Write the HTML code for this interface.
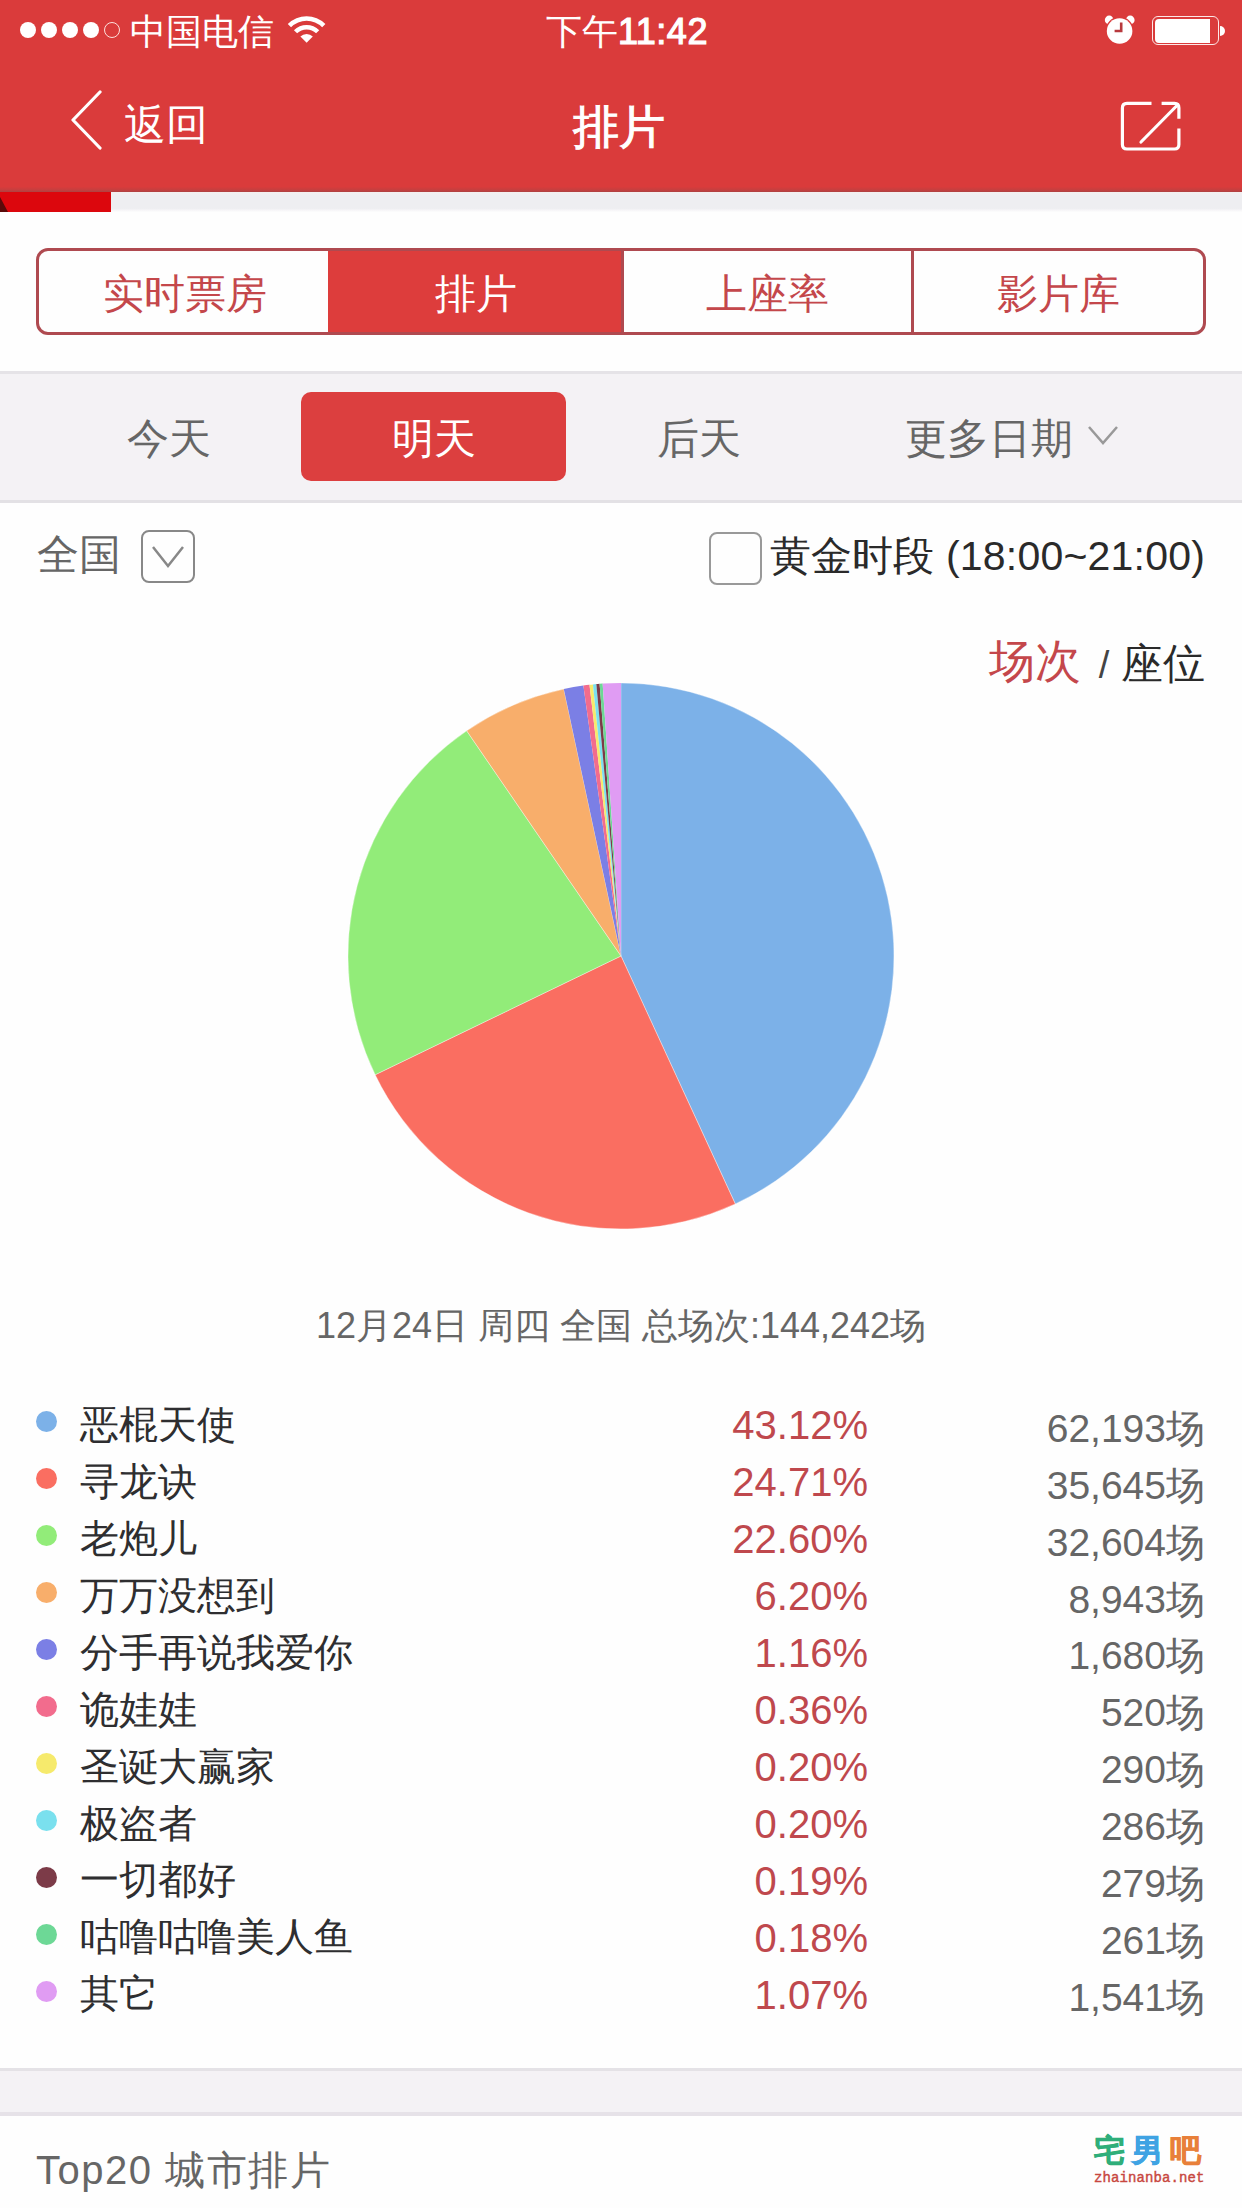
<!DOCTYPE html>
<html><head><meta charset="utf-8">
<style>
*{margin:0;padding:0;box-sizing:border-box}
html,body{width:1242px;height:2208px;overflow:hidden;background:#fefefe;font-family:"Liberation Sans",sans-serif}
.a{position:absolute;white-space:nowrap}
#hdr{position:absolute;left:0;top:0;width:1242px;height:192px;background:#da3b3b}
#prog{position:absolute;left:0;top:192px;width:1242px;height:20px;background:linear-gradient(#f3efef,#eeeef1 20%,#eeeef1 82%,#f7f6f8 92%,#fdfdfd)}
#prog .r{position:absolute;left:0;top:0;width:111px;height:20px;background:#dc070d}
.w{color:#fff}
#seg{position:absolute;left:36px;top:248px;width:1170px;height:87px;border:3px solid #af4a50;border-radius:12px;overflow:hidden}
.sg{position:absolute;top:0;height:81px;line-height:81px;text-align:center;font-size:41px;color:#c4474b;padding-top:3px}
#dates{position:absolute;left:0;top:371px;width:1242px;height:132px;background:#f4f2f5;border-top:3px solid #e5e3e7;border-bottom:3px solid #e3e1e5}
.dt{font-size:42px;color:#666}
.legend .row{position:absolute;left:0;width:1242px;height:57px}
.dot{position:absolute;left:36px;width:21px;height:21px;border-radius:50%}
.nm{position:absolute;left:80px;font-size:39px;color:#2e2e30}
.pc{position:absolute;right:374px;font-size:40px;color:#bf484d}
.ct{position:absolute;right:37px;font-size:39px;color:#666}
</style></head>
<body>
<div id="hdr"></div>
<!-- status bar -->
<div class="a" style="left:19.7px;top:21.9px;width:16.2px;height:16.2px;border-radius:50%;background:#fff"></div>
<div class="a" style="left:40.8px;top:21.9px;width:16.2px;height:16.2px;border-radius:50%;background:#fff"></div>
<div class="a" style="left:61.8px;top:21.9px;width:16.2px;height:16.2px;border-radius:50%;background:#fff"></div>
<div class="a" style="left:82.9px;top:21.9px;width:16.2px;height:16.2px;border-radius:50%;background:#fff"></div>
<div class="a" style="left:103.9px;top:21.9px;width:16.2px;height:16.2px;border-radius:50%;border:1.3px solid #fde0dc"></div>
<div class="a w" style="left:130px;top:10px;font-size:36px;line-height:44px">中国电信</div>
<svg class="a" style="left:280px;top:10px" width="55" height="40" viewBox="0 0 55 40">
<path d="M7.79 13.99A26.6 26.6 0 0 1 45.41 13.99L42.16 17.24A22.0 22.0 0 0 0 11.04 17.24Z" fill="#fff"/>
<path d="M13.94 20.14A17.9 17.9 0 0 1 39.26 20.14L36.08 23.32A13.4 13.4 0 0 0 17.12 23.32Z" fill="#fff"/>
<path d="M26.6 32.8L20.38 26.58A8.8 8.8 0 0 1 32.82 26.58Z" fill="#fff"/>
</svg>
<div class="a w" style="left:546px;top:10px;font-size:36px;line-height:44px">下午<span style="-webkit-text-stroke:1.2px #fff;letter-spacing:0.5px">11:42</span></div>
<!-- alarm -->
<svg class="a" style="left:1100px;top:10px" width="40" height="40" viewBox="0 0 40 40">
<circle cx="9.2" cy="10" r="4.4" fill="#fff"/>
<circle cx="30.2" cy="10" r="4.4" fill="#fff"/>
<circle cx="19.6" cy="21" r="14.2" fill="#da3b3b"/>
<circle cx="19.6" cy="21" r="12.8" fill="#fff"/>
<path d="M21.2 12.5 V21 H14.6" stroke="#b8393d" stroke-width="2.6" fill="none"/>
</svg>
<div class="a" style="left:1152px;top:16px;width:67px;height:29px;border:1.6px solid #fde8e8;border-radius:6px"></div>
<div class="a" style="left:1154.5px;top:18.5px;width:55px;height:24px;background:#fff;border-radius:4px 0 0 4px"></div>
<div class="a" style="left:1220px;top:26px;width:5px;height:10px;background:#fff;border-radius:0 5px 5px 0"></div>
<!-- nav -->
<svg class="a" style="left:68px;top:90px" width="36" height="62" viewBox="0 0 36 62">
<path d="M32 2 L5 30 L32 58" stroke="#fff" stroke-width="3.2" fill="none" stroke-linecap="round" stroke-linejoin="round"/>
</svg>
<div class="a w" style="left:124px;top:99px;font-size:42px;line-height:52px">返回</div>
<div class="a w" style="left:573px;top:99px;font-size:46px;line-height:56px;-webkit-text-stroke:1.1px #fff">排片</div>
<svg class="a" style="left:1100px;top:85px" width="100" height="80" viewBox="0 0 100 80">
<path d="M51.5 18.4 H27 Q22.4 18.4 22.4 23 V59.5 Q22.4 64 27 64 H74.5 Q78.9 64 78.9 59.5 V43.5" stroke="#fff" stroke-width="3.2" fill="none"/>
<path d="M61.6 18.4 H74.5 Q78.9 18.4 78.9 23 V33.8" stroke="#fff" stroke-width="3.2" fill="none"/>
<path d="M41 57 L76 21.5" stroke="#fff" stroke-width="3.2" fill="none" stroke-linecap="round"/>
</svg>
<div class="a" style="left:0;top:187px;width:1242px;height:5px;background:linear-gradient(#d83b3b,#c53f3f 60%,#ad4141)"></div>
<div id="prog"><div class="r"></div><svg class="a" style="left:0;top:0" width="10" height="20"><path d="M0 5 L8 20 H0Z" fill="#5a0a0a"/></svg></div>

<!-- segmented -->
<div id="seg">
<div class="sg" style="left:0;width:292px">实时票房</div>
<div class="sg" style="left:289px;width:295px;background:#dd3d3c;color:#fff">排片</div>
<div class="sg" style="left:582px;width:3px;background:#af4a50"></div>
<div class="sg" style="left:585px;width:287px">上座率</div>
<div class="sg" style="left:872px;width:3px;background:#af4a50"></div>
<div class="sg" style="left:875px;width:289px">影片库</div>
</div>

<!-- dates -->
<div id="dates"></div>
<div class="a dt" style="left:127px;top:411px">今天</div>
<div class="a" style="left:301px;top:392px;width:265px;height:89px;background:#dc3f3f;border-radius:10px"></div>
<div class="a dt" style="left:392px;top:411px;color:#fff">明天</div>
<div class="a dt" style="left:657px;top:411px">后天</div>
<div class="a dt" style="left:905px;top:411px">更多日期</div>
<svg class="a" style="left:1087px;top:424px" width="32" height="24" viewBox="0 0 32 24"><path d="M2 3 L16 19 L30 3" stroke="#999" stroke-width="2.5" fill="none"/></svg>

<!-- filters -->
<div class="a" style="left:37px;top:527px;font-size:42px;color:#666">全国</div>
<div class="a" style="left:141px;top:530px;width:54px;height:53px;border:2.5px solid #888;border-radius:8px"></div>
<svg class="a" style="left:141px;top:530px" width="54" height="53" viewBox="0 0 54 53"><path d="M12 17 L27 36 L42 17" stroke="#888" stroke-width="2.5" fill="none"/></svg>
<div class="a" style="left:709px;top:532px;width:53px;height:53px;border:2.5px solid #999;border-radius:8px"></div>
<div class="a" style="right:37px;top:529px;font-size:41px;color:#2a2a2a;letter-spacing:0.2px">黄金时段 (18:00~21:00)</div>
<div class="a" style="left:989px;top:631px;font-size:46px;color:#c4474b">场次</div>
<div class="a" style="right:37px;top:636px;font-size:42px;color:#2a2a2a"><span style="font-size:38px;color:#444">/</span> 座位</div>

<!-- pie -->
<svg class="a" style="left:0;top:0" width="1242" height="1300" viewBox="0 0 1242 1300">
<path d="M621 956L621.00 683.00A273 273 0 0 1 735.30 1203.92Z" fill="#7cb1e8" stroke="#fff" stroke-opacity="0.45" stroke-width="0.8"/>
<path d="M621 956L735.30 1203.92A273 273 0 0 1 375.19 1074.76Z" fill="#fa6e61" stroke="#fff" stroke-opacity="0.45" stroke-width="0.8"/>
<path d="M621 956L375.19 1074.76A273 273 0 0 1 466.69 730.80Z" fill="#92ec79" stroke="#fff" stroke-opacity="0.45" stroke-width="0.8"/>
<path d="M621 956L466.69 730.80A273 273 0 0 1 563.79 689.06Z" fill="#f8ae6b" stroke="#fff" stroke-opacity="0.45" stroke-width="0.8"/>
<path d="M621 956L563.79 689.06A273 273 0 0 1 583.38 685.60Z" fill="#7b7fe5"/>
<path d="M621 956L583.38 685.60A273 273 0 0 1 589.51 684.82Z" fill="#f26c8d"/>
<path d="M621 956L589.51 684.82A273 273 0 0 1 592.92 684.45Z" fill="#f6ea6c"/>
<path d="M621 956L592.92 684.45A273 273 0 0 1 596.33 684.12Z" fill="#7ae0ee"/>
<path d="M621 956L596.33 684.12A273 273 0 0 1 599.58 683.84Z" fill="#7c3b48"/>
<path d="M621 956L599.58 683.84A273 273 0 0 1 602.66 683.62Z" fill="#6dd896"/>
<path d="M621 956L602.66 683.62A273 273 0 0 1 621.00 683.00Z" fill="#e09cf3"/>
</svg>

<div class="a" style="left:0;width:1242px;text-align:center;top:1302px;font-size:36px;color:#666">12月24日 周四 全国 总场次:144,242场</div>

<!-- LEGEND -->
<div class="dot a" style="top:1411.2px;background:#7cb1e8"></div>
<div class="nm a" style="top:1398.0px">恶棍天使</div>
<div class="pc a" style="top:1403.2px">43.12%</div>
<div class="ct a" style="top:1401.7px">62,193场</div>
<div class="dot a" style="top:1468.1px;background:#fa6e61"></div>
<div class="nm a" style="top:1454.9px">寻龙诀</div>
<div class="pc a" style="top:1460.1px">24.71%</div>
<div class="ct a" style="top:1458.6px">35,645场</div>
<div class="dot a" style="top:1525.1px;background:#92ec79"></div>
<div class="nm a" style="top:1511.9px">老炮儿</div>
<div class="pc a" style="top:1517.1px">22.60%</div>
<div class="ct a" style="top:1515.6px">32,604场</div>
<div class="dot a" style="top:1582.0px;background:#f8ae6b"></div>
<div class="nm a" style="top:1568.8px">万万没想到</div>
<div class="pc a" style="top:1574.0px">6.20%</div>
<div class="ct a" style="top:1572.5px">8,943场</div>
<div class="dot a" style="top:1638.9px;background:#7b7fe5"></div>
<div class="nm a" style="top:1625.7px">分手再说我爱你</div>
<div class="pc a" style="top:1630.9px">1.16%</div>
<div class="ct a" style="top:1629.4px">1,680场</div>
<div class="dot a" style="top:1695.8px;background:#f26c8d"></div>
<div class="nm a" style="top:1682.6px">诡娃娃</div>
<div class="pc a" style="top:1687.8px">0.36%</div>
<div class="ct a" style="top:1686.3px">520场</div>
<div class="dot a" style="top:1752.8px;background:#f6ea6c"></div>
<div class="nm a" style="top:1739.6px">圣诞大赢家</div>
<div class="pc a" style="top:1744.8px">0.20%</div>
<div class="ct a" style="top:1743.3px">290场</div>
<div class="dot a" style="top:1809.7px;background:#7ae0ee"></div>
<div class="nm a" style="top:1796.5px">极盗者</div>
<div class="pc a" style="top:1801.7px">0.20%</div>
<div class="ct a" style="top:1800.2px">286场</div>
<div class="dot a" style="top:1866.6px;background:#7c3b48"></div>
<div class="nm a" style="top:1853.4px">一切都好</div>
<div class="pc a" style="top:1858.6px">0.19%</div>
<div class="ct a" style="top:1857.1px">279场</div>
<div class="dot a" style="top:1923.6px;background:#6dd896"></div>
<div class="nm a" style="top:1910.4px">咕噜咕噜美人鱼</div>
<div class="pc a" style="top:1915.6px">0.18%</div>
<div class="ct a" style="top:1914.1px">261场</div>
<div class="dot a" style="top:1980.5px;background:#e09cf3"></div>
<div class="nm a" style="top:1967.3px">其它</div>
<div class="pc a" style="top:1972.5px">1.07%</div>
<div class="ct a" style="top:1971.0px">1,541场</div>

<!-- bottom -->
<div class="a" style="left:0;top:2068px;width:1242px;height:48px;background:#f4f2f5;border-top:3px solid #e4e2e6;border-bottom:4px solid #e6e2e8"></div>
<div class="a" style="left:36px;top:2143px;font-size:40px;color:#666;letter-spacing:1.5px">Top20 城市排片</div>
<!-- watermark -->
<div class="a" style="left:1094px;top:2131px;font-size:31px;line-height:40px;font-weight:900;letter-spacing:7px"><span style="color:#2fae7a;-webkit-text-stroke:0.7px #2fae7a">宅</span><span style="color:#3fa3e3;-webkit-text-stroke:0.7px #3fa3e3">男</span><span style="color:#e8803a;-webkit-text-stroke:0.7px #e8803a">吧</span></div>
<div class="a" style="left:1094px;top:2169px;font-family:'Liberation Mono',monospace;font-size:14px;line-height:18px;color:#c8473f;letter-spacing:0.1px;-webkit-text-stroke:0.4px #c8473f">zhainanba.net</div>
</body></html>
